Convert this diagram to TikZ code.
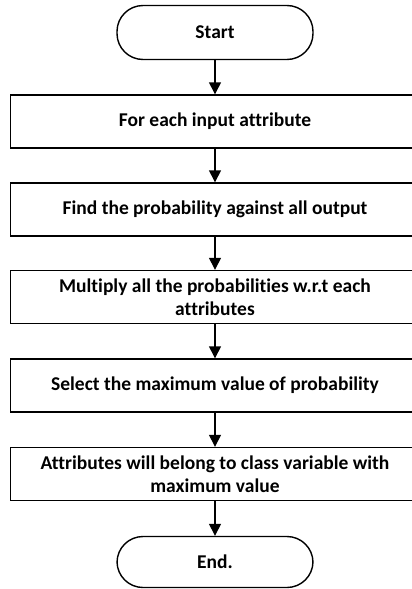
\documentclass[tikz,border=0pt]{standalone}
\usepackage{fontspec}
\setmainfont{Carlito}[Ligatures={NoCommon}]
\usetikzlibrary{arrows.meta}

\tikzset{
  terminal/.style={draw, line width=1.4pt, rounded corners=26pt, minimum width=196pt,
    minimum height=54pt, inner sep=0pt, font=\bfseries\fontsize{19.5}{23}\selectfont},
  stepbox/.style={draw, line width=1.4pt, minimum width=409pt, minimum height=53pt,
    inner sep=0pt, align=center, font=\bfseries\fontsize{19.5}{23}\selectfont},
  flow/.style={line width=1.4pt, -{Triangle[width=12pt,length=12pt]}}
}

\begin{document}
\begin{tikzpicture}[x=1pt,y=-1pt]
  %%%%% FRAME %%%%%
  \clip (0,0) rectangle (412,589);

  %%%%% NODES %%%%%
  \node[terminal] (start) at (215,32.5) {Start};
  \node[stepbox] (attr) at (215,121.5) {For each input attribute};
  \node[stepbox] (prob) at (215,209.5) {Find the probability against all output};
  \node[stepbox] (mult) at (215,297) {Multiply all the probabilities w.r.t each\\attributes};
  \node[stepbox] (maxv) at (215,385.5) {Select the maximum value of probability};
  \node[stepbox] (cls) at (215,474) {Attributes will belong to class variable with\\maximum value};
  \node[terminal, minimum height=51pt] (finish) at (215,562) {End.};

  %%%%% ARROWS %%%%%
  \draw[flow] (start) -- (attr);
  \draw[flow] (attr) -- (prob);
  \draw[flow] (prob) -- (mult);
  \draw[flow] (mult) -- (maxv);
  \draw[flow] (maxv) -- (cls);
  \draw[flow] (cls) -- (finish);
\end{tikzpicture}
\end{document}
